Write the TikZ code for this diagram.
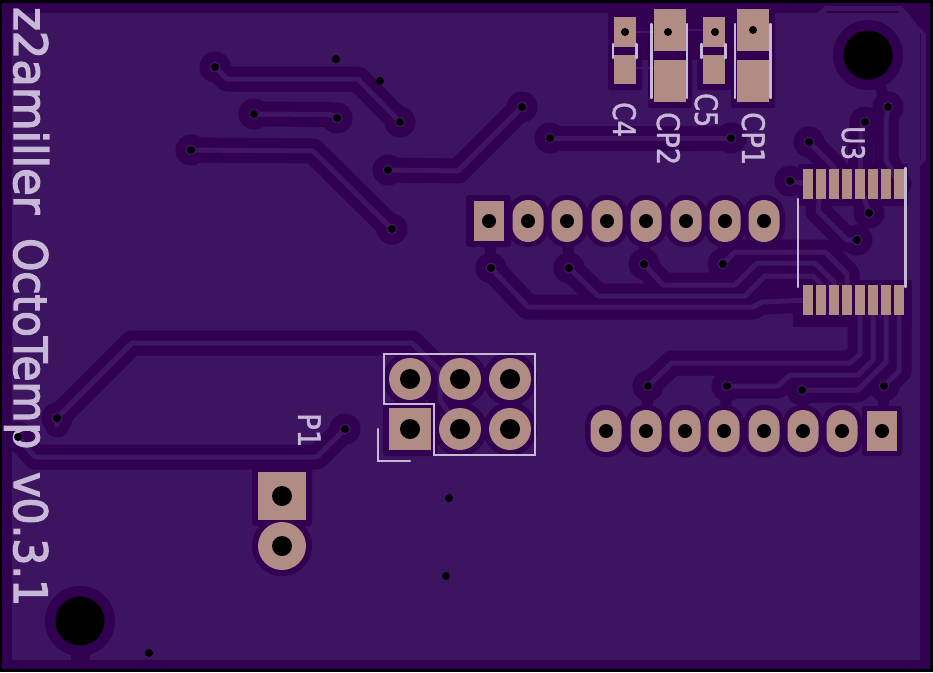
\documentclass[tikz,border=0pt]{standalone}
\usepackage{fontspec}
\usepackage{graphicx}
\setmainfont{DejaVu Sans}
\newfontfamily\boardfont[FakeBold=3]{DejaVu Sans}
\newfontfamily\labelfont[FakeBold=1.5]{DejaVu Sans}
\definecolor{pourc}{HTML}{3D1460}
\definecolor{darkc}{HTML}{320050}
\definecolor{stripc}{HTML}{401664}
\definecolor{padc}{HTML}{B08C85}
\definecolor{silkc}{HTML}{C8B8D8}
\tikzset{
  trkdark/.style={draw=darkc,line width=25pt,line cap=round,line join=round},
  trklight/.style={draw=stripc,line width=5pt,line cap=round,line join=round},
  stub/.style={draw=darkc,line width=11pt},
  silkline/.style={draw=silkc,line width=2.4pt,line cap=round,line join=miter},
  silktxt/.style={text=silkc,rotate=-90,anchor=base west,inner sep=0pt},
  padrect/.style={fill=padc,rectangle,inner sep=0pt,minimum width=#1},
  padoval/.style={fill=padc,rectangle,rounded corners=15.5pt,inner sep=0pt,minimum width=31pt,minimum height=42pt},
  padround/.style={fill=padc,circle,inner sep=0pt,minimum size=#1},
  drillhole/.style={fill=black},
  viaring/.style={fill=stripc},
}
\newcommand{\pcbtracks}[1]{%
  \draw[#1] (va) -- (227,79) -- (358,79) -- (vb);
  \draw[#1] (vc) -- (330,114.5) -- (vd);
  \draw[#1] (ve) -- (313,151) -- (vf);
  \draw[#1] (vg) -- (458,171) -- (vh);
  \draw[#1] (vi) -- (vj);
  \draw[#1] (vk2) -- (vk) -- (132,343) -- (412,343) -- (440,371) -- (440,400) -- (p5);
  \draw[#1] (vl) -- (317,457) -- (35,457) -- (vm);
  \draw[#1] (n1) -- (886,122) -- (886,160) -- (t8);
  \draw[#1] (n2) -- (861,130) -- (t5);
  \draw[#1] (n3) -- (834,167) -- (t3);
  \draw[#1] (n4) -- (t1);
  \draw[#1] (n5) -- (t5);
  \draw[#1] (n6) -- (847,240) -- (818,211) -- (t2);
  \draw[#1] (n7) -- (735,252) -- (825,252) -- (847,274) -- (b4);
  \draw[#1] (n8) -- (663,285) -- (735,285) -- (757,263) -- (815,263) -- (834,282) -- (b3);
  \draw[#1] (n9) -- (598,296) -- (745,296) -- (765,276) -- (813,276) -- (821,284) -- (b2);
  \draw[#1] (n10) -- (528,307) -- (753,307) -- (762,302) -- (b1);
  \draw[#1] (b5) -- (860,354) -- (850,363) -- (672,363) -- (s1);
  \draw[#1] (b6) -- (873,360) -- (858,375) -- (790,375) -- (778,386) -- (s2);
  \draw[#1] (b7) -- (886,362) -- (858,390) -- (s3);
  \draw[#1] (b8) -- (899,371) -- (s4);
}
\begin{document}
\begin{tikzpicture}[x=1pt,y=-1pt]
\useasboundingbox (0,0) rectangle (933,672);
% named ends of the copper
\foreach \n/\x/\y in {va/215/67,vb/400/122,vc/254/114,vd/337/118,ve/191/150,vf/392/229,vg/388/170,vh/522/107,vi/550/138,vj/731/138,vk/57/418,vk2/57/425,vl/345/429,vm/18/437,n1/888/107,n2/865/122,n3/809/142,n4/790/181,n5/869/213,n6/857/240,n7/723/264,n8/644/264,n9/569/268,n10/491/268,s1/648/386,s2/727/386,s3/802/390,s4/884/386,p5/460/429,bh1/868/55,bh2/80/621}
  {\coordinate (\n) at (\x,\y);}
\foreach \i in {1,...,8}{
  \coordinate (t\i) at ({808+13*(\i-1)},184);
  \coordinate (b\i) at ({808+13*(\i-1)},300);
}
% board
\fill[black] (0,0) rectangle (933,672);
\fill[darkc] (2,3) rectangle (930,669);
\fill[pourc] (12,13) rectangle (920,660);
\fill[pourc] (817,13) -- (825,6) -- (901,6) -- (908,13) -- cycle;
\fill[pourc] (920,28) -- (926,34) -- (926,160) -- (920,166) -- cycle;
\draw[darkc,line width=1.2pt] (826,12) -- (899,12);
\draw[darkc,line width=1.2pt] (920.5,33) -- (920.5,160);
\fill[darkc] (908,13) -- (920,13) -- (920,28) -- cycle;
% clearance around copper
\fill[darkc] (798,164) rectangle (908,206);
\fill[darkc] (793,280) rectangle (912,327);
\fill[darkc,rounded corners=2pt] (608,11) rectangle (642,90);
\fill[darkc,rounded corners=2pt] (648,4) rectangle (692,108);
\fill[darkc,rounded corners=2pt] (697,11) rectangle (731,90);
\fill[darkc,rounded corners=2pt] (731,4) rectangle (775,108);
\fill[darkc] (642,11) rectangle (648,60);
\fill[darkc] (692,11) rectangle (697,60);
\fill[darkc,rounded corners=3pt] (466,195) rectangle (511,247);
\foreach \x in {528,567,607,646,686,725,764}
  \fill[darkc,rounded corners=20pt] (\x-21,221-26) rectangle (\x+21,221+26);
\fill[darkc,rounded corners=3pt] (862,406) rectangle (902,456);
\foreach \x in {606,646,685,724,764,803,842}
  \fill[darkc,rounded corners=20pt] (\x-21,431-26) rectangle (\x+21,431+26);
\foreach \x/\y in {410/379,460/379,510/379,460/429,510/429}
  \fill[darkc] (\x,\y) circle (27);
\fill[darkc,rounded corners=3pt] (383,402) rectangle (437,456);
\fill[darkc,rounded corners=3pt] (252,466) rectangle (312,526);
\fill[darkc] (282,546) circle (30);
\fill[darkc] (bh1) circle (35);
\fill[darkc] (bh2) circle (35);
\draw[darkc,line width=19pt] (bh2) -- (80,662);
\draw[stub] (bh1) -- (n1);
\foreach \v/\x in {n10/489,n9/567,n8/646,n7/725}
  \draw[stub] (\v) -- (\x,221);
\foreach \v/\x in {s1/646,s2/724,s3/803,s4/882}
  \draw[stub] (\v) -- (\x,431);
\pcbtracks{trkdark}
\foreach \v in {va,vb,vc,vd,ve,vf,vg,vh,vi,vj,vk,vl,vm,n1,n2,n3,n4,n5,n6,n7,n8,n9,n10,s1,s2,s3,s4}
  \fill[darkc] (\v) circle (15.5);
\pcbtracks{trklight}
% faint links between the capacitors
\draw[stripc,line width=2.5pt] (636,32) -- (654,32);
\draw[stripc,line width=2.5pt] (636,68) -- (654,68);
\draw[stripc,line width=2.5pt] (686,30) -- (703,30);
% pads
\node[padrect=30pt,minimum height=40pt] (h1) at (489,221) {};
\foreach \x [count=\i from 2] in {528,567,607,646,686,725,764}
  \node[padoval] (h\i) at (\x,221) {};
\node[padrect=30pt,minimum height=40pt] (r8) at (882,431) {};
\foreach \x [count=\i] in {606,646,685,724,764,803,842}
  \node[padoval] (r\i) at (\x,431) {};
\foreach \i in {1,...,8}{
  \node[padrect=10pt,minimum height=30pt] (tp\i) at (t\i) {};
  \node[padrect=10pt,minimum height=30pt] (bp\i) at (b\i) {};
}
\node[padrect=42pt,minimum height=42pt] (pp1) at (410,429) {};
\foreach \x/\y [count=\i from 2] in {410/379,460/379,510/379,460/429,510/429}
  \node[padround=42pt] (pp\i) at (\x,\y) {};
\node[padrect=48pt,minimum height=48pt] (j1) at (282,496) {};
\node[padround=48pt] (j2) at (282,546) {};
% capacitors
\fill[padc] (614,17) rectangle (636,46.7);
\fill[padc] (614,55) rectangle (636,84);
\fill[padc] (703,17) rectangle (725,46.7);
\fill[padc] (703,55) rectangle (725,84);
\fill[padc] (654,9) rectangle (686,51);
\fill[padc] (654,60) rectangle (686,102);
\fill[padc] (737,9) rectangle (769,51);
\fill[padc] (737,60) rectangle (769,102);
% silk outlines
\draw[silkline] (384,354) -- (535,354) -- (535,455) -- (434,455) -- (434,404) -- (384,404) -- cycle;
\draw[silkline] (378,429) -- (378,461) -- (410,461);
\draw[silkline] (613,44) -- (613,58);
\draw[silkline] (636.5,44) -- (636.5,58);
\draw[silkline] (701.5,44) -- (701.5,58);
\draw[silkline] (725.5,44) -- (725.5,58);
\draw[silkline] (651.5,24) -- (651.5,98);
\draw[silkline] (687,24) -- (687,98);
\draw[silkline] (735,24) -- (735,98);
\draw[silkline] (770.5,24) -- (770.5,98);
\draw[silkline] (798,199) -- (798,287);
\draw[silkline] (905.5,168) -- (905.5,287);
% texts
\node[silktxt] (title) at (14,7) {\fontsize{46pt}{46pt}\boardfont
  \resizebox{207pt}{\height}{z2amiller}\hspace{24pt}\resizebox{211pt}{\height}{OctoTemp}\hspace{23pt}\resizebox{134pt}{\height}{v0.3.1}};
\node[silktxt] (c4) at (613,102) {\resizebox{35pt}{\height}{\fontsize{31pt}{31pt}\labelfont C4}};
\node[silktxt] (cp2) at (657,112) {\resizebox{53pt}{\height}{\fontsize{31pt}{31pt}\labelfont CP2}};
\node[silktxt] (c5) at (695,93) {\resizebox{34pt}{\height}{\fontsize{31pt}{31pt}\labelfont C5}};
\node[silktxt] (cp1) at (742,112) {\resizebox{53pt}{\height}{\fontsize{31pt}{31pt}\labelfont CP1}};
\node[silktxt] (u3) at (842,126) {\resizebox{34pt}{\height}{\fontsize{31pt}{31pt}\labelfont U3}};
\node[silktxt] (p1) at (298,413) {\resizebox{34pt}{\height}{\fontsize{31pt}{31pt}\labelfont P1}};
% via rings and holes
\foreach \v in {va,vb,vc,vd,ve,vf,vg,vh,vi,vj,vk,vl,n1,n2,n3,n4,n5,n6,n7,n8,n9,n10,s1,s2,s3,s4}
  \fill[viaring] (\v) circle (5.5);
\foreach \v in {va,vb,vc,vd,ve,vf,vg,vh,vi,vj,vk,vl,vm,n1,n2,n3,n4,n5,n6,n7,n8,n9,n10,s1,s2,s3,s4}
  \fill[drillhole] (\v) circle (4);
\foreach \x/\y in {336/59,380/81,449/498,446/576,149/653,625/32,668/32,715/32,753/30}
  \fill[drillhole] (\x,\y) circle (4);
\foreach \i in {1,...,8}{
  \fill[drillhole] (h\i.center) circle (7);
  \fill[drillhole] (r\i.center) circle (7);
}
\foreach \i in {1,...,6}
  \fill[drillhole] (pp\i.center) circle (10);
\fill[drillhole] (j1.center) circle (10);
\fill[drillhole] (j2.center) circle (10);
\fill[drillhole] (bh1) circle (24.5);
\fill[drillhole] (bh2) circle (24.5);
\end{tikzpicture}
\end{document}
